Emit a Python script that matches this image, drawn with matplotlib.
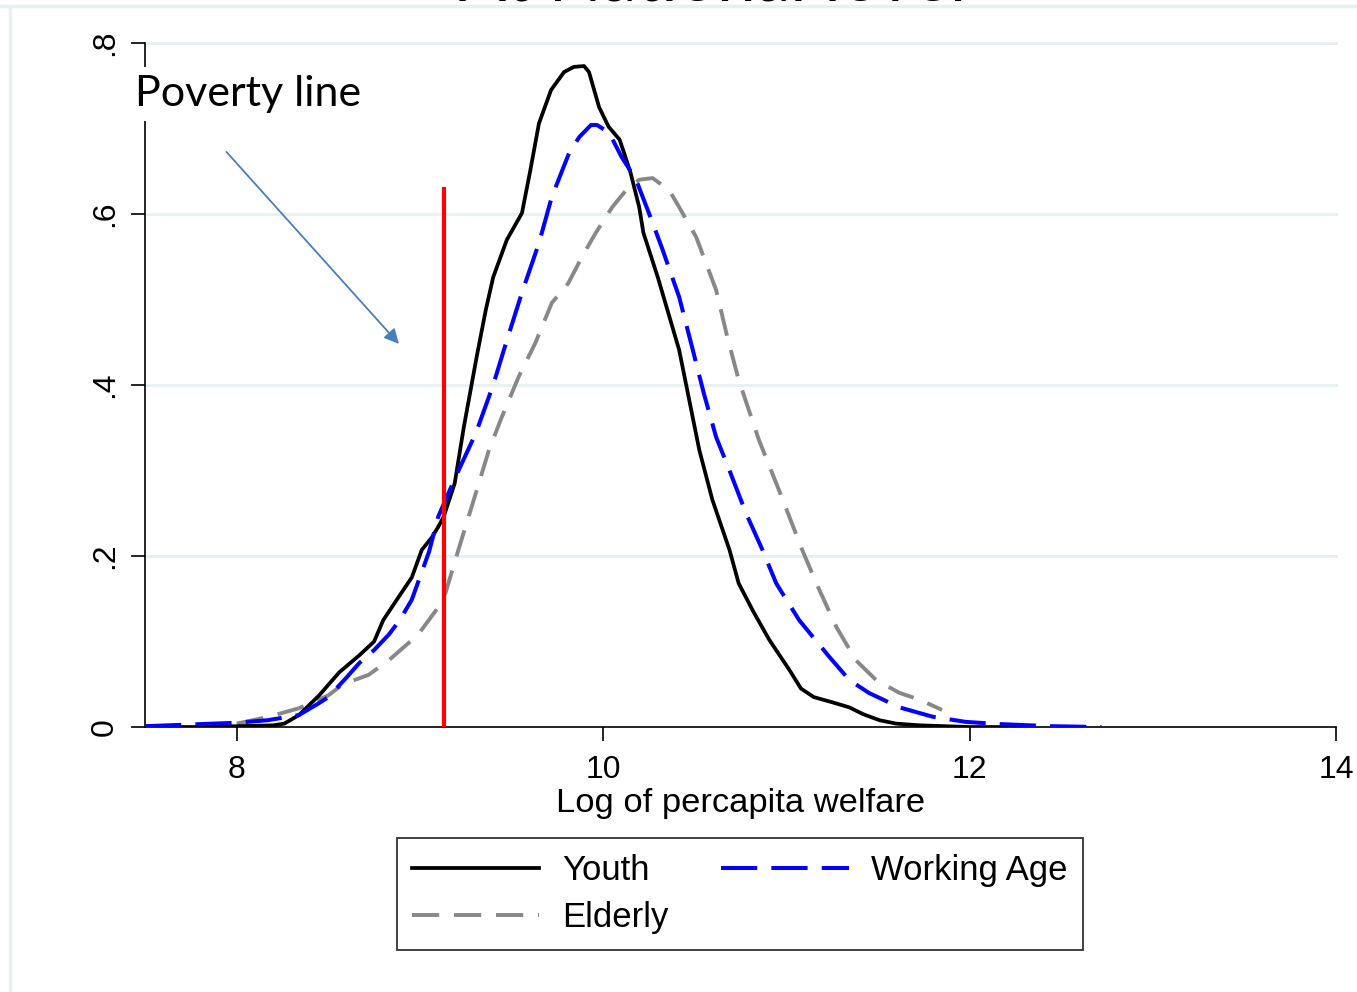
import numpy as np
import matplotlib
matplotlib.use("Agg")
import matplotlib.pyplot as plt
from matplotlib.lines import Line2D

# kernel density estimates of log per capita welfare, by age group
youth_x = [7.6, 7.8, 8.0, 8.2, 8.26, 8.34, 8.45, 8.56, 8.67, 8.75, 8.80, 8.89,
           8.956, 9.01, 9.066, 9.10, 9.13, 9.19, 9.24, 9.31, 9.36, 9.40, 9.475,
           9.557, 9.60, 9.65, 9.716, 9.787, 9.84, 9.896, 9.923, 9.978, 10.03,
           10.09, 10.115, 10.15, 10.197, 10.22, 10.30, 10.415, 10.525, 10.596,
           10.69, 10.74, 10.82, 10.907, 11.016, 11.08, 11.15, 11.25, 11.344,
           11.42, 11.508, 11.60, 11.727, 12.0, 12.3]
youth_y = [0.0, 0.0, 0.001, 0.002, 0.004, 0.014, 0.037, 0.064, 0.084, 0.100, 0.125, 0.154,
           0.175, 0.207, 0.222, 0.234, 0.246, 0.285, 0.351, 0.433, 0.488, 0.526, 0.570,
           0.601, 0.648, 0.706, 0.745, 0.766, 0.772, 0.773, 0.766, 0.725, 0.702,
           0.687, 0.671, 0.648, 0.608, 0.578, 0.525, 0.441, 0.324, 0.266,
           0.207, 0.168, 0.135, 0.102, 0.067, 0.045, 0.035, 0.029, 0.023,
           0.015, 0.008, 0.004, 0.002, 0.0, 0.0]

work_x = [7.5, 8.0, 8.17, 8.34, 8.45, 8.50, 8.60, 8.67, 8.75, 8.83, 8.89, 8.956,
          9.05, 9.10, 9.20, 9.306, 9.40, 9.47, 9.557, 9.65, 9.72, 9.814, 9.87,
          9.934, 9.967, 10.033, 10.10, 10.18, 10.25, 10.32, 10.415, 10.486,
          10.55, 10.617, 10.69, 10.78, 10.87, 10.945, 11.07, 11.235, 11.344,
          11.45, 11.617, 11.80, 11.98, 12.16, 12.44, 12.72]
work_y = [0.001, 0.005, 0.008, 0.014, 0.028, 0.035, 0.058, 0.075, 0.090, 0.108, 0.125, 0.149,
          0.205, 0.246, 0.295, 0.344, 0.400, 0.449, 0.508, 0.566, 0.620, 0.671, 0.690,
          0.704, 0.704, 0.695, 0.667, 0.640, 0.601, 0.561, 0.503, 0.444,
          0.390, 0.339, 0.300, 0.250, 0.207, 0.168, 0.125, 0.082, 0.055,
          0.040, 0.023, 0.012, 0.006, 0.0035, 0.001, 0.0]

eld_x = [8.0, 8.175, 8.34, 8.50, 8.58, 8.72, 8.83, 8.99, 9.10, 9.14, 9.21, 9.306,
         9.377, 9.448, 9.54, 9.63, 9.72, 9.81, 9.885, 9.96, 10.05, 10.126,
         10.197, 10.27, 10.36, 10.415, 10.508, 10.617, 10.678, 10.74, 10.85,
         10.96, 11.087, 11.164, 11.273, 11.38, 11.49, 11.617, 11.727, 11.85]
eld_y = [0.004, 0.012, 0.022, 0.037, 0.050, 0.061, 0.078, 0.108, 0.140, 0.157, 0.207, 0.274,
         0.324, 0.363, 0.410, 0.449, 0.496, 0.519, 0.550, 0.578, 0.608, 0.628,
         0.640, 0.642, 0.628, 0.608, 0.573, 0.511, 0.456, 0.406, 0.336,
         0.277, 0.207, 0.168, 0.117, 0.078, 0.055, 0.040, 0.032, 0.020]

poverty_line = 9.13
poverty_top = 0.632
xticks = [8, 10, 12, 14]
yticks = [0, 0.2, 0.4, 0.6, 0.8]
ytick_labels = ["0", ".2", ".4", ".6", ".8"]

plt.rcParams["font.family"] = ["Liberation Sans", "DejaVu Sans"]

fig = plt.figure(figsize=(13.57, 9.92), dpi=100)
ax = fig.add_axes([0.1069, 0.2671, 0.8776, 0.6896])

ax.set_xlim(7.5, 14)
ax.set_ylim(0, 0.8)

for yv in yticks[1:]:
    ax.axhline(yv, color="#e8f0f2", lw=2.2, zorder=0, clip_on=False)

ax.plot(youth_x, youth_y, color="black", lw=2.7, label="Youth", zorder=3)
ax.plot(work_x, work_y, color="#0000ff", lw=2.9, ls=(0, (9, 3.5)),
        label="Working Age", zorder=4)
ax.plot(eld_x, eld_y, color="#888888", lw=2.8, ls=(0, (7, 3.8)),
        label="Elderly", zorder=2)

ax.plot([poverty_line, poverty_line], [0, poverty_top], color="#ff0000",
        lw=3, zorder=5, solid_capstyle="butt")

ax.annotate("", xy=(8.896, 0.4456), xytext=(7.934, 0.675),
            arrowprops=dict(arrowstyle="-|>", color="#4a7ebb", lw=1.3,
                            mutation_scale=22))

for s in ["top", "right"]:
    ax.spines[s].set_visible(False)
for s in ["left", "bottom"]:
    ax.spines[s].set_linewidth(1.2)
    ax.spines[s].set_color("black")

ax.set_xticks(xticks)
ax.set_xticklabels([str(t) for t in xticks], fontsize=23)
ax.set_yticks(yticks)
ax.set_yticklabels(ytick_labels, fontsize=23, rotation=90, va="center")
ax.tick_params(axis="both", length=10, width=1.2, color="black")
ax.tick_params(axis="x", pad=10)
ax.tick_params(axis="y", pad=8)
ax.set_xlabel("Log of percapita welfare", fontsize=24.8, labelpad=2)

handles, labels = ax.get_legend_handles_labels()
order = [0, 2, 1]
leg = fig.legend([handles[i] for i in order], [labels[i] for i in order],
                 loc="upper center", bbox_to_anchor=(0.5453, 0.1552), ncol=2,
                 fontsize=25, frameon=True, fancybox=False, edgecolor="black",
                 handlelength=3.66, handletextpad=0.65, columnspacing=1.53,
                 labelspacing=0.42, borderpad=0.45, borderaxespad=0)
leg.get_frame().set_linewidth(1.3)

fig.text(0.0995, 0.905, "Poverty line", fontsize=31, family=["Lato", "DejaVu Sans"],
         ha="left", va="center",
         bbox=dict(facecolor="white", edgecolor="none", pad=6), zorder=10)

# slide title above the chart and frame edges
fig.text(0.525, 0.9995, "At National level", fontsize=50,
         family=["Lato", "DejaVu Sans"], ha="center", va="baseline")
fig.add_artist(Line2D([0, 1], [0.994, 0.994], color="#e8f0f2", lw=2.5))
fig.add_artist(Line2D([0.0074, 0.0074], [0, 0.994], color="#e8f0f2", lw=2.5))

fig.savefig("out.png", dpi=100)
